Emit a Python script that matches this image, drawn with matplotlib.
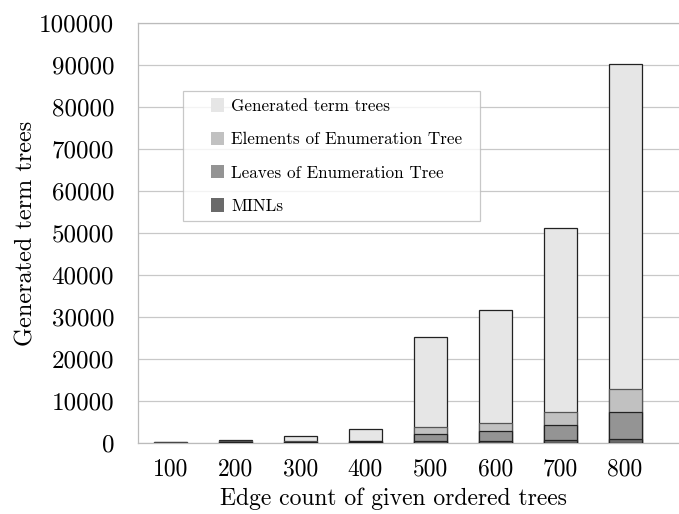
import matplotlib.pyplot as plt
import matplotlib.patches as mpatches
from matplotlib.legend_handler import HandlerPatch
import numpy as np

plt.rcParams['font.family'] = 'serif'
plt.rcParams['font.serif'] = ['cmr10']
plt.rcParams['mathtext.fontset'] = 'cm'
plt.rcParams['axes.formatter.use_mathtext'] = True

edge_counts = ['100', '200', '300', '400', '500', '600', '700', '800']
generated = [250, 750, 1600, 3300, 25200, 31700, 51300, 90300]
elements = [150, 400, 500, 600, 3900, 4700, 7400, 12800]
leaves = [100, 300, 300, 400, 2200, 2800, 4400, 7500]
minls = [50, 100, 100, 200, 400, 400, 700, 1000]

series = [
    ('Generated term trees', generated, '#e6e6e6', '#222222'),
    ('Elements of Enumeration Tree', elements, '#c1c1c1', '#555555'),
    ('Leaves of Enumeration Tree', leaves, '#949494', '#222222'),
    ('MINLs', minls, '#6a6a6a', '#222222'),
]


class RightSquare(HandlerPatch):
    # square swatch pushed to the right end of the handle box
    def create_artists(self, legend, orig_handle, xdescent, ydescent,
                       width, height, fontsize, trans):
        side = 0.78 * fontsize
        p = mpatches.Rectangle((width - side - xdescent, -ydescent + (height - side) / 2),
                               side, side, facecolor=orig_handle.get_facecolor(),
                               edgecolor='none', transform=trans)
        return [p]


fig, ax = plt.subplots(figsize=(6.79, 5.14), dpi=100)
fig.subplots_adjust(left=0.203, right=1.0, bottom=0.138, top=0.955)

x = np.arange(len(edge_counts))
for name, vals, face, edge in series:
    ax.bar(x, vals, width=0.51, color=face, edgecolor=edge, linewidth=0.9,
           label=name, zorder=3)

ax.set_xlim(-0.5, 7.83)
ax.set_ylim(0, 100000)
ax.set_yticks(np.arange(0, 100001, 10000))
ax.set_yticklabels([str(v) for v in range(0, 100001, 10000)])
ax.set_xticks(x)
ax.set_xticklabels(edge_counts)
ax.tick_params(axis='y', length=0, labelsize=18, pad=17)
ax.tick_params(axis='x', length=0, labelsize=17, pad=11)
ax.yaxis.grid(True, color='#c8c8c8', linewidth=0.9, zorder=0)
for s in ax.spines.values():
    s.set_color('#bbbbbb')
    s.set_linewidth(0.9)
ax.spines['right'].set_visible(False)

ax.set_xlabel('Edge count of given ordered trees', fontsize=17, labelpad=5)
ax.xaxis.set_label_coords(0.472, -0.105, transform=ax.transAxes)
ax.set_ylabel('Generated term trees', fontsize=17.5, labelpad=1)

labels = [name for name, _, _, _ in series]
proxies = [mpatches.Patch(facecolor=f, edgecolor='none') for _, _, f, _ in series]
leg = ax.legend(proxies, labels, loc='upper left',
                bbox_to_anchor=(0.0832, 0.5, 0.549, 0.338), mode='expand',
                borderaxespad=0, fontsize=12.3, fancybox=False, edgecolor='#bbbbbb',
                handlelength=2.0, handleheight=0.8, labelspacing=1.05,
                borderpad=0.42, handletextpad=0.4,
                handler_map={mpatches.Patch: RightSquare()})
leg.get_frame().set_linewidth(0.9)

fig.savefig('out.png', dpi=100)
